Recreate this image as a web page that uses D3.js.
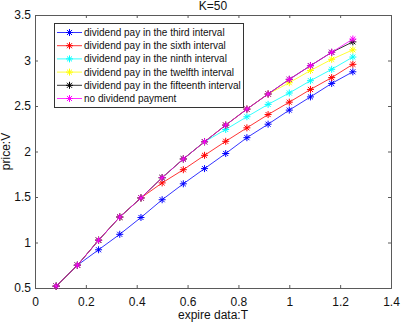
<!DOCTYPE html>
<html>
<head>
<meta charset="utf-8">
<script src="https://cdn.jsdelivr.net/npm/d3@7"></script>
<style>
  body { margin: 0; background: #fff; }
  svg { display: block; font-family: 'Liberation Sans', Arial, sans-serif; }
</style>
</head>
<body>
<div id="container"></div>
<script>
//### DATA ###
//>>> expire times (T = 1/12 ... 15/12)
const expireT = [ 0.0833, 0.1667, 0.25, 0.3333, 0.4167, 0.5, 0.5833, 0.6667, 0.75, 0.8333, 0.9167, 1.0, 1.0833, 1.1667, 1.25 ];

//>>> option price V per series
const thirdValues     = [ 0.52, 0.75, 0.92, 1.09, 1.275, 1.47, 1.645, 1.812, 1.978, 2.152, 2.3, 2.455, 2.6, 2.748, 2.876 ];
const sixthValues     = [ 0.52, 0.75, 1.025, 1.28, 1.49, 1.655, 1.8, 1.958, 2.112, 2.26, 2.406, 2.542, 2.682, 2.812, 2.958 ];
const ninthValues     = [ 0.52, 0.75, 1.025, 1.28, 1.49, 1.712, 1.918, 2.107, 2.242, 2.382, 2.518, 2.643, 2.778, 2.903, 3.038 ];
const twelfthValues   = [ 0.52, 0.75, 1.025, 1.28, 1.49, 1.712, 1.918, 2.107, 2.29, 2.466, 2.632, 2.756, 2.89, 3.013, 3.117 ];
const fifteenthValues = [ 0.52, 0.75, 1.025, 1.28, 1.49, 1.712, 1.918, 2.107, 2.29, 2.466, 2.632, 2.793, 2.943, 3.09, 3.205 ];
const noDivValues     = [ 0.52, 0.75, 1.025, 1.28, 1.49, 1.712, 1.918, 2.107, 2.29, 2.466, 2.632, 2.793, 2.943, 3.09, 3.236 ];

const seriesNames = [
  'dividend pay in the third interval',
  'dividend pay in the sixth interval',
  'dividend pay in the ninth interval',
  'dividend pay in the twelfth interval',
  'dividend pay in the fifteenth interval',
  'no dividend payment'
];
const seriesValues = [ thirdValues, sixthValues, ninthValues, twelfthValues, fifteenthValues, noDivValues ];
const seriesColors = [ '#0000ff', '#ff0000', '#00ffff', '#ffff00', '#000000', '#ff00ff' ];

const xTicks = [ 0, 0.2, 0.4, 0.6, 0.8, 1, 1.2, 1.4 ];
const yTicks = [ 0.5, 1, 1.5, 2, 2.5, 3, 3.5 ];


//### CREATE THE CHART ###
const width = 401;
const height = 323;
const margin = { top: 15, right: 10, bottom: 35, left: 35 };
const axisGray = '#5a5a5a';

const svg = d3.select( '#container' )
  .append( 'svg' )
  .attr( 'width', width )
  .attr( 'height', height );

//_____ SCALES _____
const x = d3.scaleLinear()
  .domain( [ 0, 1.4 ] )
  .range( [ margin.left, width - margin.right ] );

const y = d3.scaleLinear()
  .domain( [ 0.5, 3.5 ] )
  .range( [ height - margin.bottom, margin.top ] );

//_____ AXES (MATLAB style: inward ticks, boxed) _____
const xAxis = svg.append( 'g' )
  .attr( 'transform', `translate(0,${y( 0.5 )})` )
  .call( d3.axisBottom( x ).tickValues( xTicks ).tickSize( -3 ).tickPadding( 9 ).tickFormat( d3.format( '' ) ) );

const xAxisTop = svg.append( 'g' )
  .attr( 'transform', `translate(0,${y( 3.5 )})` )
  .call( d3.axisTop( x ).tickValues( xTicks ).tickSize( -3 ).tickFormat( '' ) );

const yAxis = svg.append( 'g' )
  .attr( 'transform', `translate(${x( 0 )},0)` )
  .call( d3.axisLeft( y ).tickValues( yTicks ).tickSize( -3 ).tickPadding( 4 ).tickFormat( d3.format( '' ) ) );

const yAxisRight = svg.append( 'g' )
  .attr( 'transform', `translate(${x( 1.4 )},0)` )
  .call( d3.axisRight( y ).tickValues( yTicks ).tickSize( -3 ).tickFormat( '' ) );

[ xAxis, xAxisTop, yAxis, yAxisRight ].forEach( g => {
  g.select( '.domain' ).attr( 'stroke', axisGray ).attr( 'stroke-width', 1 );
  g.selectAll( 'line' ).attr( 'stroke', axisGray );
  g.selectAll( 'text' )
    .attr( 'fill', '#111' )
    .style( 'font-size', '12px' )
    .style( 'font-family', "'Liberation Sans', Arial, sans-serif" );
} );

//_____ SERIES _____
const line = d3.line()
  .x( ( d, i ) => x( expireT[ i ] ) )
  .y( d => y( d ) );

//>>> asterisk marker: plus + cross
const r = 3.5;
const rd = r * 0.72;
const asterisk = `M${-r},0L${r},0M0,${-r}L0,${r}M${-rd},${-rd}L${rd},${rd}M${-rd},${rd}L${rd},${-rd}`;

const plot = svg.append( 'g' ).attr( 'id', 'series' );

seriesValues.forEach( ( values, k ) => {
  const g = plot.append( 'g' );
  g.append( 'path' )
    .datum( values )
    .attr( 'd', line )
    .attr( 'fill', 'none' )
    .attr( 'stroke', seriesColors[ k ] )
    .attr( 'stroke-width', 0.8 );
  g.selectAll( 'path.marker' )
    .data( values )
    .enter().append( 'path' )
    .attr( 'class', 'marker' )
    .attr( 'transform', ( d, i ) => `translate(${x( expireT[ i ] )},${y( d )})` )
    .attr( 'd', asterisk )
    .attr( 'stroke', seriesColors[ k ] )
    .attr( 'stroke-width', 1 );
} );

//_____ LEGEND _____
const legend = svg.append( 'g' ).attr( 'id', 'legend' );
legend.append( 'rect' )
  .attr( 'x', 54.5 ).attr( 'y', 23.5 )
  .attr( 'width', 189 ).attr( 'height', 84 )
  .attr( 'fill', '#fff' )
  .attr( 'stroke', '#333' )
  .attr( 'stroke-width', 1 );

const rows = legend.selectAll( 'g.row' )
  .data( seriesNames )
  .enter().append( 'g' )
  .attr( 'class', 'row' )
  .attr( 'transform', ( d, i ) => `translate(0,${32.5 + i * 13.2})` );

rows.append( 'line' )
  .attr( 'x1', 57 ).attr( 'x2', 82 )
  .attr( 'stroke', ( d, i ) => seriesColors[ i ] )
  .attr( 'stroke-width', 0.8 );
rows.append( 'path' )
  .attr( 'transform', 'translate(69.5,0)' )
  .attr( 'd', asterisk )
  .attr( 'stroke', ( d, i ) => seriesColors[ i ] )
  .attr( 'stroke-width', 1 );
rows.append( 'text' )
  .attr( 'x', 84 )
  .attr( 'dy', '0.35em' )
  .style( 'font-size', '10px' )
  .attr( 'fill', '#111' )
  .text( d => d );

//_____ TITLES _____
svg.append( 'text' )
  .attr( 'x', ( x( 0 ) + x( 1.4 ) ) / 2 )
  .attr( 'y', 10 )
  .attr( 'text-anchor', 'middle' )
  .style( 'font-size', '12px' )
  .attr( 'fill', '#111' )
  .text( 'K=50' );

svg.append( 'text' )
  .attr( 'x', ( x( 0 ) + x( 1.4 ) ) / 2 )
  .attr( 'y', 319 )
  .attr( 'text-anchor', 'middle' )
  .style( 'font-size', '12px' )
  .attr( 'fill', '#111' )
  .text( 'expire data:T' );

svg.append( 'text' )
  .attr( 'transform', `translate(10,${( y( 0.5 ) + y( 3.5 ) ) / 2}) rotate(-90)` )
  .attr( 'text-anchor', 'middle' )
  .style( 'font-size', '12px' )
  .attr( 'fill', '#111' )
  .text( 'price:V' );
</script>
</body>
</html>
